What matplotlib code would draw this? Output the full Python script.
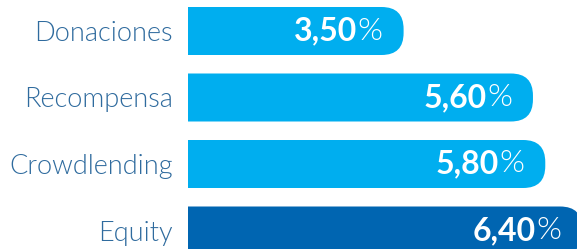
import matplotlib
matplotlib.use('Agg')
import matplotlib.pyplot as plt
from matplotlib.patches import FancyBboxPatch

# Data
categories = ['Donaciones', 'Recompensa', 'Crowdlending', 'Equity']
values = [3.50, 5.60, 5.80, 6.40]
colors = ['#00AEEF', '#00AEEF', '#00AEEF', '#0065B1']

label_color = '#2F6B9E'
plt.rcParams['font.family'] = ['Lato', 'DejaVu Sans']

W, H = 577, 249
fig = plt.figure(figsize=(W / 100, H / 100), dpi=100)

# axes starts where the bars start
left_px = 188
ax = fig.add_axes([left_px / W, 0, 1 - left_px / W, 1])

px_per_x = 61.6   # pixels per percentage point
px_per_y = 66.5   # pixels per category step
ax.set_xlim(0, (W - left_px) / px_per_x)
ax.set_ylim((H - 31) / px_per_y, -31 / px_per_y)

bar_h = 48 / px_per_y
aspect = px_per_x / px_per_y
radius = 22 / px_per_x

for i, (v, c) in enumerate(zip(values, colors)):
    box = FancyBboxPatch((-1, i - bar_h / 2), v + 1, bar_h,
                         boxstyle=f'round,pad=0,rounding_size={radius}',
                         mutation_aspect=aspect, facecolor=c, edgecolor='none')
    ax.add_patch(box)

ax.set_yticks(range(len(categories)))
ax.set_yticklabels(categories, fontsize=19.5, color=label_color, fontweight=300)
ax.tick_params(axis='y', length=0, pad=11)
ax.set_xticks([])
for s in ax.spines.values():
    s.set_visible(False)

# value labels: bold number + light percent sign
fig.canvas.draw()
renderer = fig.canvas.get_renderer()
pad = 21 / px_per_x
for i, v in enumerate(values):
    pct = ax.text(v - pad, i, '%', ha='right', va='center', color='white',
                  fontsize=23, fontweight=300)
    bb = pct.get_window_extent(renderer=renderer)
    x_left = ax.transData.inverted().transform((bb.x0, 0))[0]
    ax.text(x_left, i, f'{v:.2f}'.replace('.', ','), ha='right', va='center',
            color='white', fontsize=23, fontweight='bold')

fig.savefig('out.png', dpi=100)
